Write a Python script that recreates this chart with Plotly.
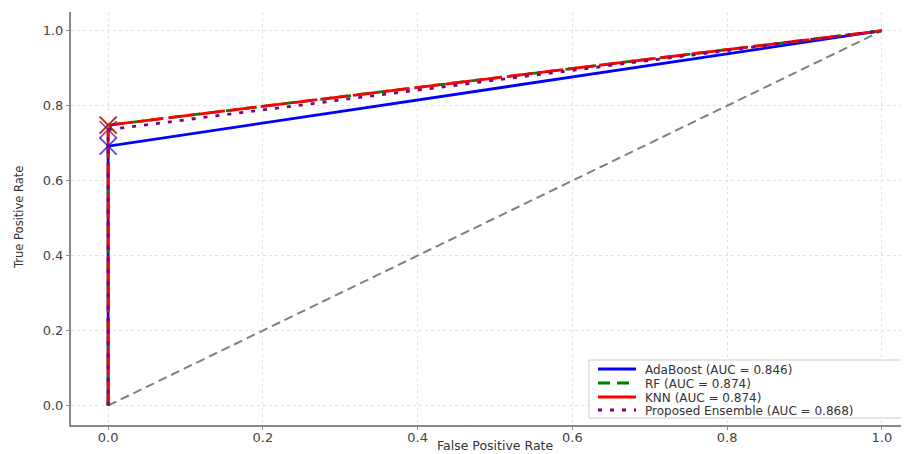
import plotly.graph_objects as go

# ROC curve data
fpr = [0.0, 0.0, 1.0]
tpr_adaboost = [0.0, 0.692, 1.0]
tpr_rf = [0.0, 0.748, 1.0]
tpr_knn = [0.0, 0.748, 1.0]
tpr_ensemble = [0.0, 0.736, 1.0]
chance = [0.0, 1.0]

names = ["AdaBoost (AUC = 0.846)", "RF (AUC = 0.874)", "KNN (AUC = 0.874)",
         "Proposed Ensemble (AUC = 0.868)"]
series = [tpr_adaboost, tpr_rf, tpr_knn, tpr_ensemble]
colors = ["#0000ff", "#008000", "#ff0000", "#800080"]
plot_dashes = ["solid", "12px,7px", "26px,5px", "4px,8px"]
legend_dashes = ["solid", "12px,7px", "solid", "4px,8px"]

xticks = [0.0, 0.2, 0.4, 0.6, 0.8, 1.0]
yticks = [0.0, 0.2, 0.4, 0.6, 0.8, 1.0]

# figure geometry (page has an 8px body margin)
FIG_W, FIG_H = 901, 446
ML, MT, MB = 63, 4, 29
PW = FIG_W - ML
PH = FIG_H - MT - MB


def px_x(page_x):
    return (page_x - 8 - ML) / PW


def px_y(page_y):
    return (FIG_H - MB + 8 - page_y) / PH


fig = go.Figure()
fig.add_trace(go.Scatter(x=chance, y=chance, mode="lines",
                         line=dict(color="#808080", width=2, dash="9px,5px"),
                         showlegend=False, hoverinfo="skip"))
for name, tpr, c, d in zip(names, series, colors, plot_dashes):
    fig.add_trace(go.Scatter(
        x=fpr, y=tpr, mode="lines", name=name, showlegend=False,
        line=dict(color=c, width=2.8, dash=d),
    ))
for name, tpr, c in zip(names, series, colors):
    fig.add_trace(go.Scatter(
        x=fpr, y=tpr, mode="markers", showlegend=False, hoverinfo="skip",
        marker=dict(symbol="x-thin", size=[0, 17, 0],
                    line=dict(color=c, width=1.8), color=c),
    ))

# legend (drawn as shapes + text to match the compact matplotlib legend)
shapes = [dict(type="rect", xref="paper", yref="paper",
               x0=px_x(589), x1=px_x(906), y0=px_y(418), y1=px_y(360),
               fillcolor="rgba(255,255,255,0.85)",
               line=dict(color="#cccccc", width=1), layer="above")]
annotations = []
row_y = [369, 383, 397, 410]
for name, c, d, ry in zip(names, colors, legend_dashes, row_y):
    shapes.append(dict(type="line", xref="paper", yref="paper",
                       x0=px_x(598), x1=px_x(636), y0=px_y(ry), y1=px_y(ry),
                       line=dict(color=c, width=2.8, dash=d), layer="above"))
    annotations.append(dict(text=name, xref="paper", yref="paper",
                            x=px_x(643), y=px_y(ry), xanchor="left", yanchor="middle",
                            showarrow=False, height=13,
                            font=dict(size=12, color="#333333")))

annotations += [
    dict(text="False Positive Rate", xref="paper", yref="paper",
         x=px_x(495), y=px_y(445.5), xanchor="center", yanchor="middle",
         showarrow=False, font=dict(size=12.5, color="#333333")),
    dict(text="True Positive Rate", xref="paper", yref="paper",
         x=px_x(19), y=px_y(218), xanchor="center", yanchor="middle",
         textangle=-90, showarrow=False, font=dict(size=11.5, color="#333333")),
]

fig.update_layout(
    width=FIG_W, height=FIG_H,
    margin=dict(l=ML, r=0, t=MT, b=MB),
    paper_bgcolor="white", plot_bgcolor="white",
    font=dict(family="DejaVu Sans", size=12, color="#444444"),
    showlegend=False,
    shapes=shapes,
    annotations=annotations,
)
fig.update_xaxes(range=[-0.048, 1.035], tickvals=xticks,
                 ticktext=[f"{v:.1f}" for v in xticks], automargin=False,
                 showgrid=True, gridcolor="#e2e2e2", griddash="dot", gridwidth=1,
                 showline=True, linecolor="#888888", linewidth=2,
                 ticks="outside", tickcolor="#888888", ticklen=3,
                 ticklabelstandoff=-4,
                 tickfont=dict(size=13), zeroline=False)
fig.update_yaxes(range=[-0.052, 1.05], tickvals=yticks,
                 ticktext=[f"{v:.1f}" for v in yticks], automargin=False,
                 showgrid=True, gridcolor="#e2e2e2", griddash="dot", gridwidth=1,
                 showline=True, linecolor="#888888", linewidth=2,
                 ticks="outside", tickcolor="#888888", ticklen=3,
                 tickfont=dict(size=13), zeroline=False)

fig.write_html("out.html")
